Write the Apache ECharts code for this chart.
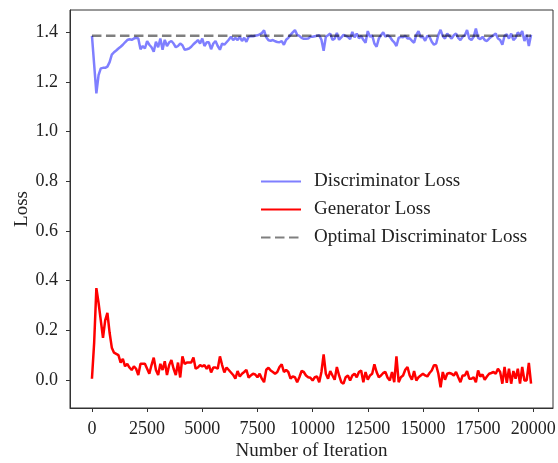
<!DOCTYPE html>
<html>
<head>
<meta charset="utf-8">
<script src="https://cdn.jsdelivr.net/npm/echarts@6/dist/echarts.min.js"></script>
<style>
html,body{margin:0;padding:0;background:#fff;}
#chart{width:558px;height:463px;}
</style>
</head>
<body>
<div id="chart"></div>
<script>
// Iterations: logged every 100 steps, from 0 to 19900
const iterationStep = 100;

const discriminatorLoss = [
1.386,1.27,1.154,1.228,1.255,1.257,1.257,1.262,1.28,1.31,
1.32,1.327,1.335,1.342,1.35,1.36,1.369,1.372,1.37,1.375,
1.378,1.375,1.332,1.345,1.335,1.365,1.35,1.34,1.322,1.362,
1.34,1.375,1.33,1.37,1.345,1.36,1.365,1.355,1.34,1.345,
1.355,1.348,1.33,1.332,1.335,1.342,1.352,1.36,1.369,1.355,
1.375,1.345,1.36,1.36,1.332,1.355,1.365,1.345,1.33,1.355,
1.35,1.36,1.37,1.382,1.369,
1.378,1.369,1.382,1.365,1.378,
1.362,1.382,1.385,1.384,1.386,1.388,1.392,1.397,1.408,1.38,
1.368,1.366,1.369,1.364,1.361,1.36,1.365,1.35,1.37,1.378,
1.39,1.4,1.409,1.39,1.386,1.378,1.374,1.374,1.375,1.382,
1.382,1.384,1.386,1.388,1.37,1.326,1.382,1.388,1.395,1.37,
1.375,1.398,1.37,1.38,1.39,1.386,1.382,1.373,1.402,1.38,
1.395,1.376,1.386,1.37,1.358,1.405,1.382,1.388,1.355,1.342,
1.375,1.388,1.4,1.382,1.388,
1.382,1.369,1.36,1.345,1.378,
1.382,1.38,1.386,1.375,1.376,1.366,1.358,1.39,1.405,1.38,
1.382,1.366,1.386,1.382,1.362,1.35,1.355,1.39,1.41,1.385,
1.375,1.395,1.385,1.375,1.388,1.395,1.378,1.369,1.382,1.388,
1.409,1.375,1.369,1.382,1.415,1.378,1.373,1.382,1.369,1.365,
1.375,1.382,1.388,1.395,1.375,1.369,1.35,1.386,1.392,1.375,
1.395,1.369,1.378,1.4,1.39,1.405,1.365,1.39,1.345,1.39
];

const generatorLoss = [
0.005,0.15,0.37,0.31,0.24,0.17,0.24,0.27,0.19,0.13,
0.11,0.105,0.10,0.07,0.085,0.055,0.065,0.05,0.04,0.055,
0.045,0.02,0.065,0.065,0.065,0.045,0.025,0.06,0.09,0.04,
0.02,0.065,0.04,0.075,0.02,0.06,0.08,0.045,0.02,0.07,
0.01,0.095,0.065,0.07,0.07,0.07,0.09,0.045,0.05,0.06,
0.055,0.06,0.045,0.06,0.03,0.05,0.05,0.045,0.095,0.06,
0.03,0.05,0.04,0.03,0.02,
0.005,0.036,0.014,0.025,0.032,
0.041,0.009,0.018,0.025,0.022,0.011,0.025,0.005,-0.009,0.041,
0.049,0.038,0.032,0.025,0.032,0.052,0.063,0.032,0.041,0.032,
0.005,0.014,0.011,-0.009,0.011,0.036,0.032,0.018,0.011,0.009,
-0.002,0.011,0.014,-0.009,0.032,0.103,0.025,0.005,0.036,0.018,
0.001,0.052,0.018,-0.009,-0.015,0.011,0.018,-0.002,0.018,0.025,
0.011,0.032,0.038,-0.009,0.032,0.001,0.018,0.025,0.063,0.032,
0.011,0.018,0.028,0.032,0.009,
-0.002,0.032,-0.009,0.095,-0.009,
0.011,0.018,0.041,0.052,0.018,0.001,0.036,-0.002,0.011,0.018,
0.025,0.018,0.014,0.028,0.038,0.059,0.059,0.025,-0.03,0.032,
0.001,0.025,0.028,0.025,0.018,0.032,0.011,-0.009,0.018,0.018,
0.036,0.005,0.005,0.011,-0.009,0.038,0.014,0.022,0.001,0.014,
0.025,0.028,0.032,0.025,0.045,0.032,-0.015,0.052,-0.012,0.045,
-0.015,0.036,0.005,0.045,-0.015,0.052,-0.002,-0.002,0.069,-0.015
];

const optimalLoss = 1.386; // ln(4)
const optimalRange = [0, 19900];

const xTicks = [0,2500,5000,7500,10000,12500,15000,17500,20000];
const yTicks = [0.0,0.2,0.4,0.6,0.8,1.0,1.2,1.4];

const seriesNames = ['Discriminator Loss','Generator Loss','Optimal Discriminator Loss'];

const toPairs = arr => arr.map((v, i) => [i * iterationStep, v]);

const FONT = '"Liberation Serif", "DejaVu Serif", serif';
const chart = echarts.init(document.getElementById('chart'), null, {renderer: 'canvas'});

chart.setOption({
  animation: false,
  backgroundColor: '#ffffff',
  textStyle: {fontFamily: FONT},
  grid: {left: 70, right: 5, top: 10, bottom: 55, show: true, borderColor: '#333', borderWidth: 1,
         backgroundColor: 'transparent', containLabel: false, outerBoundsMode: 'none'},
  legend: {
    orient: 'vertical',
    left: 255,
    top: 167,
    itemWidth: 40,
    itemHeight: 14,
    itemGap: 9,
    itemStyle: {opacity: 0},
    textStyle: {fontFamily: FONT, fontSize: 19, color: '#222', padding: [0,0,0,8], lineHeight: 14},
    data: seriesNames
  },
  xAxis: {
    type: 'value',
    min: -995,
    max: 20895,
    name: 'Number of Iteration',
    nameLocation: 'middle',
    nameGap: 34,
    nameMoveOverlap: false,
    nameTextStyle: {fontFamily: FONT, fontSize: 19, color: '#222'},
    axisLine: {show: true, onZero: false, lineStyle: {color: '#333', width: 1}},
    axisTick: {show: true, length: 4, lineStyle: {color: '#333'}, customValues: xTicks},
    axisLabel: {show: true, margin: 12, fontFamily: FONT, fontSize: 18, color: '#222', customValues: xTicks, formatter: v => String(v)},
    splitLine: {show: false}
  },
  yAxis: {
    type: 'value',
    min: -0.113,
    max: 1.49,
    name: 'Loss',
    nameLocation: 'middle',
    nameGap: 38,
    nameMoveOverlap: false,
    nameRotate: 90,
    nameTextStyle: {fontFamily: FONT, fontSize: 19, color: '#222'},
    axisLine: {show: true, onZero: false, lineStyle: {color: '#333', width: 1}},
    axisTick: {show: true, length: 4, lineStyle: {color: '#333'}, customValues: yTicks},
    axisLabel: {show: true, margin: 12, fontFamily: FONT, fontSize: 18, color: '#222', customValues: yTicks, formatter: v => v.toFixed(1)},
    splitLine: {show: false}
  },
  series: [
    {
      name: seriesNames[0], type: 'line', symbol: 'none', showSymbol: false,
      data: toPairs(discriminatorLoss),
      lineStyle: {color: 'rgba(0,0,255,0.5)', width: 2.5},
      itemStyle: {color: 'rgba(0,0,255,0.5)'},
      z: 2
    },
    {
      name: seriesNames[1], type: 'line', symbol: 'none', showSymbol: false,
      data: toPairs(generatorLoss),
      lineStyle: {color: '#ff0000', width: 2.5},
      itemStyle: {color: '#ff0000'},
      z: 3
    },
    {
      name: seriesNames[2], type: 'line', symbol: 'none', showSymbol: false,
      data: optimalRange.map(x => [x, optimalLoss]),
      lineStyle: {color: 'rgba(0,0,0,0.5)', width: 2.5, type: [9.5, 4.5]},
      itemStyle: {color: 'rgba(0,0,0,0.5)'},
      z: 4
    }
  ]
});
</script>
</body>
</html>
